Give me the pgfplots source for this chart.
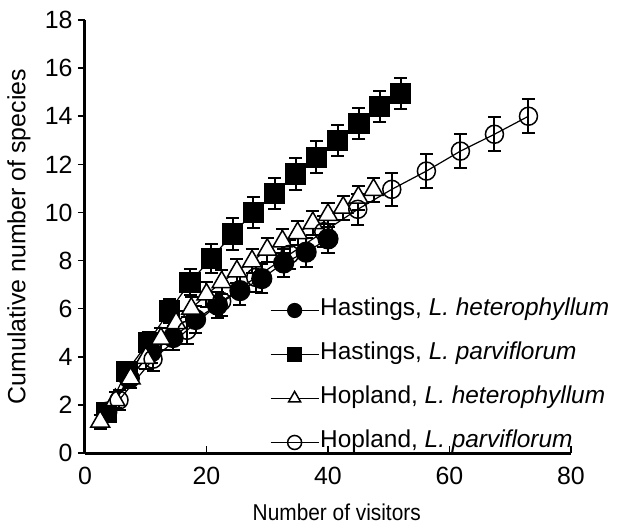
\documentclass[border=0pt]{standalone}
\usepackage{fontspec}
\setmainfont{Liberation Sans}
\newfontfamily\narrowfont[FakeStretch=0.91]{Liberation Sans}
\usepackage{pgfplots}
\pgfplotsset{compat=1.18}

% Cumulative species curves, one list per series: x, y, error
\begin{document}
\begin{tikzpicture}
\begin{axis}[
    scale only axis,
    width=486bp, height=433bp,
    xmin=0, xmax=80, ymin=0, ymax=18,
    xtick={0,20,...,80}, ytick={0,2,...,18},
    axis lines=left,
    axis line style={-, line width=3bp},
    tick align=inside,
    major tick length=7bp,
    tick style={line width=1.5bp, black},
    ytick style={xshift=-7bp},
    /pgf/number format/assume math mode=true,
    ticklabel style={font=\fontsize{25}{29}\selectfont},
    xticklabel style={yshift=-11bp},
    yticklabel style={xshift=-9bp},
    xlabel={Number of visitors},
    ylabel={Cumulative number of species},
    xlabel style={font=\narrowfont\fontsize{23}{27}\selectfont,
        at={(axis description cs:0.518,-0.136)}, anchor=center},
    ylabel style={font=\fontsize{25}{29}\selectfont,
        at={(axis description cs:-0.1358,0.5)}, anchor=center},
    clip=false,
    legend cell align=left,
    legend style={draw=none, fill=none, inner sep=0pt, outer sep=0pt,
        at={(axis description cs:0.3807,0.358)}, anchor=north west,
        font=\fontsize{24.5}{28}\selectfont, row sep=19bp,
        nodes={inner sep=1bp, text height=17bp, text depth=6bp}},
    legend image code/.code={%
        \draw[mark repeat=2, mark phase=2, #1, mark size=7bp]
        plot coordinates {(0bp,0bp) (24bp,0bp) (48bp,0bp)};},
    error bars/error bar style={line width=2bp, black},
    error bars/error mark options={rotate=90, line width=2bp, black, mark size=6.5bp},
]

% Hastings, L. heterophyllum
\addplot[black, line width=1.2bp, mark=*, mark size=10bp,
    mark options={solid, fill=black},
    error bars/.cd, y dir=both, y explicit]
coordinates {
    (3.6,1.7) +- (0,0.35)
    (7.3,3.1) +- (0,0.4)
    (10.9,4.2) +- (0,0.45)
    (14.5,4.8) +- (0,0.5)
    (18.2,5.55) +- (0,0.55)
    (21.8,6.15) +- (0,0.55)
    (25.5,6.75) +- (0,0.6)
    (29.1,7.25) +- (0,0.6)
    (32.7,7.9) +- (0,0.6)
    (36.4,8.35) +- (0,0.6)
    (40.0,8.9) +- (0,0.6)
};
\addlegendentry{Hastings, \textit{L. heterophyllum}}

% Hastings, L. parviflorum
\addplot[black, line width=1.2bp, mark=square*, mark size=10bp,
    mark options={solid, fill=black},
    error bars/.cd, y dir=both, y explicit]
coordinates {
    (3.5,1.7) +- (0,0.35)
    (6.9,3.4) +- (0,0.4)
    (10.4,4.6) +- (0,0.45)
    (13.9,5.9) +- (0,0.5)
    (17.3,7.1) +- (0,0.55)
    (20.8,8.1) +- (0,0.6)
    (24.3,9.1) +- (0,0.65)
    (27.7,10.0) +- (0,0.65)
    (31.2,10.8) +- (0,0.65)
    (34.7,11.6) +- (0,0.65)
    (38.1,12.3) +- (0,0.65)
    (41.6,13.0) +- (0,0.65)
    (45.1,13.7) +- (0,0.65)
    (48.5,14.4) +- (0,0.65)
    (52.0,14.95) +- (0,0.65)
};
\addlegendentry{Hastings, \textit{L. parviflorum}}

% Hopland, L. heterophyllum
\addplot[black, line width=1.2bp, mark=triangle*, mark size=11bp,
    mark options={solid, fill=white, line width=1.5bp},
    error bars/.cd, y dir=both, y explicit]
coordinates {
    (2.5,1.3) +- (0,0.3)
    (5.0,2.2) +- (0,0.35)
    (7.5,3.1) +- (0,0.4)
    (10.0,3.95) +- (0,0.45)
    (12.5,4.75) +- (0,0.45)
    (15.0,5.4) +- (0,0.5)
    (17.5,6.0) +- (0,0.5)
    (20.0,6.59) +- (0,0.5)
    (22.5,7.1) +- (0,0.5)
    (25.0,7.55) +- (0,0.5)
    (27.5,7.97) +- (0,0.5)
    (30.0,8.45) +- (0,0.5)
    (32.5,8.8) +- (0,0.5)
    (35.0,9.14) +- (0,0.5)
    (37.5,9.56) +- (0,0.5)
    (40.0,9.9) +- (0,0.5)
    (42.5,10.2) +- (0,0.5)
    (45.0,10.62) +- (0,0.5)
    (47.5,10.94) +- (0,0.5)
};
\addlegendentry{Hopland, \textit{L. heterophyllum}}

% Hopland, L. parviflorum
\addplot[black, line width=1.2bp, mark=o, mark size=9bp,
    mark options={solid, line width=1.5bp},
    error bars/.cd, y dir=both, y explicit]
coordinates {
    (5.6,2.2) +- (0,0.4)
    (11.2,3.9) +- (0,0.5)
    (16.8,5.1) +- (0,0.55)
    (22.5,6.3) +- (0,0.6)
    (28.1,7.3) +- (0,0.6)
    (33.7,8.26) +- (0,0.6)
    (39.3,9.2) +- (0,0.65)
    (44.9,10.13) +- (0,0.65)
    (50.5,10.96) +- (0,0.7)
    (56.2,11.72) +- (0,0.7)
    (61.8,12.55) +- (0,0.7)
    (67.4,13.25) +- (0,0.7)
    (73.0,14.0) +- (0,0.7)
};
\addlegendentry{Hopland, \textit{L. parviflorum}}

\end{axis}
\pgfresetboundingbox
\path[use as bounding box] (-85bp,-73bp) rectangle (545bp,453bp);
\end{tikzpicture}
\end{document}
